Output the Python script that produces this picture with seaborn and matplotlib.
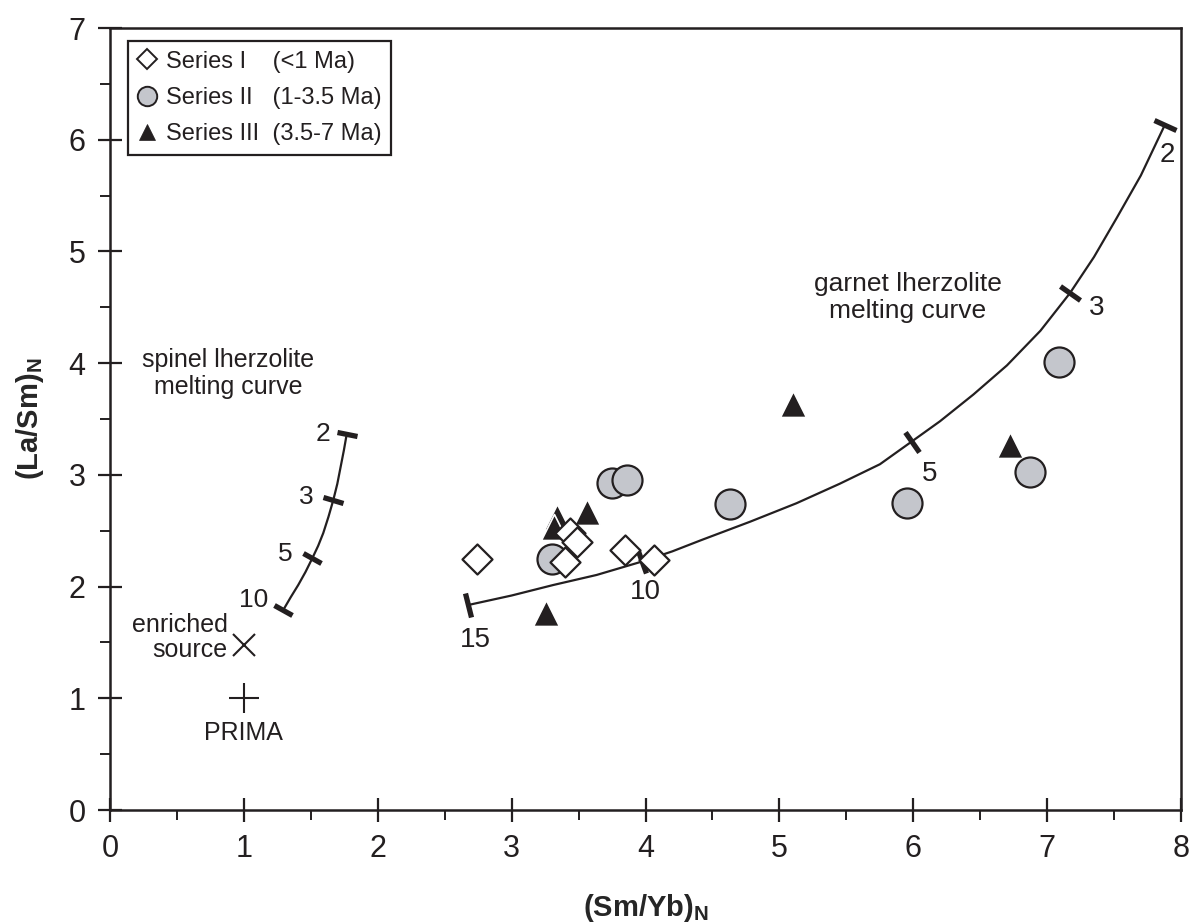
import matplotlib
matplotlib.use("Agg")
import matplotlib.pyplot as plt
from matplotlib.lines import Line2D
import numpy as np
import pandas as pd
import seaborn as sns
from matplotlib.markers import MarkerStyle
from matplotlib.transforms import Affine2D
from matplotlib.ticker import MultipleLocator

# Series I (<1 Ma)
s1_x = [2.74, 3.435, 3.485, 3.40, 3.85, 4.06]
s1_y = [2.25, 2.48, 2.40, 2.22, 2.33, 2.24]
# Series II (1-3.5 Ma)
s2_x = [3.30, 3.75, 3.86, 4.63, 5.95, 6.87, 7.09]
s2_y = [2.25, 2.93, 2.95, 2.74, 2.75, 3.03, 4.01]
# Series III (3.5-7 Ma)
s3_x = [3.34, 3.32, 3.56, 3.26, 5.10, 6.72]
s3_y = [2.62, 2.53, 2.67, 1.76, 3.63, 3.27]

series_labels = ["Series I    (<1 Ma)", "Series II   (1-3.5 Ma)", "Series III  (3.5-7 Ma)"]

# garnet lherzolite melting curve (degree of melting marked in %)
garnet_x = [2.676, 3.0, 3.311, 3.635, 3.971, 4.2, 4.419, 4.78, 5.128, 5.45, 5.751,
            5.987, 6.2, 6.45, 6.70, 6.95, 7.170, 7.35, 7.52, 7.70, 7.879]
garnet_y = [1.835, 1.92, 2.014, 2.104, 2.223, 2.315, 2.417, 2.58, 2.746, 2.92, 3.095,
            3.297, 3.48, 3.72, 3.98, 4.29, 4.626, 4.95, 5.30, 5.68, 6.132]
garnet_tick_idx = [0, 4, 11, 16, 20]
garnet_tick_text = ["15", "10", "5", "3", "2"]
garnet_text_x = [2.73, 4.00, 6.12, 7.37, 7.90]
garnet_text_y = [1.52, 1.95, 3.01, 4.49, 5.86]

# spinel lherzolite melting curve
spinel_x = [1.294, 1.350, 1.406, 1.460, 1.511, 1.555, 1.593, 1.632, 1.668, 1.698, 1.723, 1.747, 1.768]
spinel_y = [1.790, 1.905, 2.014, 2.130, 2.253, 2.365, 2.479, 2.625, 2.775, 2.920, 3.073, 3.220, 3.363]
spinel_tick_idx = [0, 4, 8, 12]
spinel_tick_text = ["10", "5", "3", "2"]
spinel_text_x = [1.07, 1.31, 1.47, 1.59]
spinel_text_y = [1.88, 2.29, 2.80, 3.37]

# reference compositions
enriched_xy = (1.0, 1.48)
prima_xy = (1.0, 1.0)

x_ticks = [0, 1, 2, 3, 4, 5, 6, 7, 8]
y_ticks = [0, 1, 2, 3, 4, 5, 6, 7]

INK = "#231f20"
GREY = "#c4c6cc"

sns.set_theme(style="ticks")
plt.rcParams["font.family"] = ["Liberation Sans", "DejaVu Sans"]
plt.rcParams["mathtext.fontset"] = "custom"
plt.rcParams["mathtext.rm"] = "Liberation Sans"
plt.rcParams["mathtext.bf"] = "Liberation Sans:bold"
plt.rcParams["text.color"] = INK
plt.rcParams["axes.edgecolor"] = INK
plt.rcParams["xtick.color"] = INK
plt.rcParams["ytick.color"] = INK

fig = plt.figure(figsize=(11.94, 9.23), dpi=100)
ax = fig.add_axes([110 / 1194, 1 - 810 / 923, 1071 / 1194, 782 / 923])
ax.set_xlim(0, 8)
ax.set_ylim(0, 7)

df1 = pd.DataFrame({"x": s1_x, "y": s1_y})
df2 = pd.DataFrame({"x": s2_x, "y": s2_y})
df3 = pd.DataFrame({"x": s3_x, "y": s3_y})

sns.scatterplot(data=df3, x="x", y="y", ax=ax, marker="^", s=350, color=INK,
                edgecolor="white", linewidth=1.2, zorder=3, legend=False)
sns.scatterplot(data=df2, x="x", y="y", ax=ax, marker="o", s=467, color=GREY,
                edgecolor=INK, linewidth=1.6, zorder=4, legend=False)
sns.scatterplot(data=df1, x="x", y="y", ax=ax, marker="D", s=234, color="white",
                edgecolor=INK, linewidth=1.6, zorder=5, legend=False)

# melting curves
ax.plot(garnet_x, garnet_y, color=INK, lw=1.6, zorder=2, solid_joinstyle="round")
ax.plot(spinel_x, spinel_y, color=INK, lw=1.6, zorder=2, solid_joinstyle="round")


def curve_ticks(cx, cy, idx_list, size):
    pts = ax.transData.transform(np.column_stack([cx, cy]))
    n = len(cx)
    for i in idx_list:
        a = max(i - 1, 0)
        b = min(i + 1, n - 1)
        dx, dy = pts[b] - pts[a]
        ang = np.degrees(np.arctan2(dy, dx))
        m = MarkerStyle("|", transform=Affine2D().rotate_deg(ang))
        ax.plot([cx[i]], [cy[i]], marker=m, markersize=size, mew=3.8,
                color=INK, linestyle="none", zorder=2.5)


curve_ticks(garnet_x, garnet_y, garnet_tick_idx, 17)
curve_ticks(spinel_x, spinel_y, spinel_tick_idx, 15)

for t, tx, ty in zip(garnet_tick_text, garnet_text_x, garnet_text_y):
    ax.text(tx, ty, t, fontsize=20, ha="center", va="center")
for t, tx, ty in zip(spinel_tick_text, spinel_text_x, spinel_text_y):
    ax.text(tx, ty, t, fontsize=19, ha="center", va="center")

ax.text(0.88, 3.91, "spinel lherzolite\nmelting curve", fontsize=18,
        ha="center", va="center", linespacing=1.15)
ax.text(5.96, 4.59, "garnet lherzolite\nmelting curve", fontsize=19,
        ha="center", va="center", linespacing=1.15)

ax.plot(*enriched_xy, marker="x", markersize=16, mew=1.5, color=INK, linestyle="none")
ax.plot(*prima_xy, marker="+", markersize=22, mew=1.5, color=INK, linestyle="none")
ax.text(0.88, 1.54, "enriched\nsource", fontsize=18, ha="right", va="center", linespacing=1.05)
ax.text(1.0, 0.69, "PRIMA", fontsize=18, ha="center", va="center")

# axes styling
for sp in ax.spines.values():
    sp.set_linewidth(1.8)
    sp.set_visible(True)
ax.set_xticks(x_ticks)
ax.set_yticks(y_ticks)
ax.xaxis.set_minor_locator(MultipleLocator(0.5))
ax.yaxis.set_minor_locator(MultipleLocator(0.5))
ax.tick_params(which="major", direction="inout", length=17, width=1.6, pad=9, labelsize=22)
ax.tick_params(which="minor", direction="out", length=7, width=1.4)
ax.tick_params(top=False, right=False, which="both")

ax.set_xlabel(r"(Sm/Yb)$_{\mathbf{N}}$", fontsize=21, fontweight="bold", labelpad=20)
ax.set_ylabel(r"(La/Sm)$_{\mathbf{N}}$", fontsize=21, fontweight="bold", labelpad=16)

legend_handles = [
    Line2D([], [], marker="D", markersize=10, color="white", markeredgecolor=INK,
           markeredgewidth=1.4, linestyle="none"),
    Line2D([], [], marker="o", markersize=14, color=GREY, markeredgecolor=INK,
           markeredgewidth=1.4, linestyle="none"),
    Line2D([], [], marker="^", markersize=12, color=INK, markeredgecolor=INK,
           markeredgewidth=0.5, linestyle="none"),
]
leg = ax.legend(legend_handles, series_labels, loc="upper left",
                bbox_to_anchor=(0.017, 0.983), borderaxespad=0, fontsize=17,
                frameon=True, fancybox=False, edgecolor=INK,
                framealpha=1, handlelength=0.8, handletextpad=0.4,
                borderpad=0.4, labelspacing=0.6)
leg.get_frame().set_linewidth(1.6)

fig.savefig("out.png", dpi=100)
